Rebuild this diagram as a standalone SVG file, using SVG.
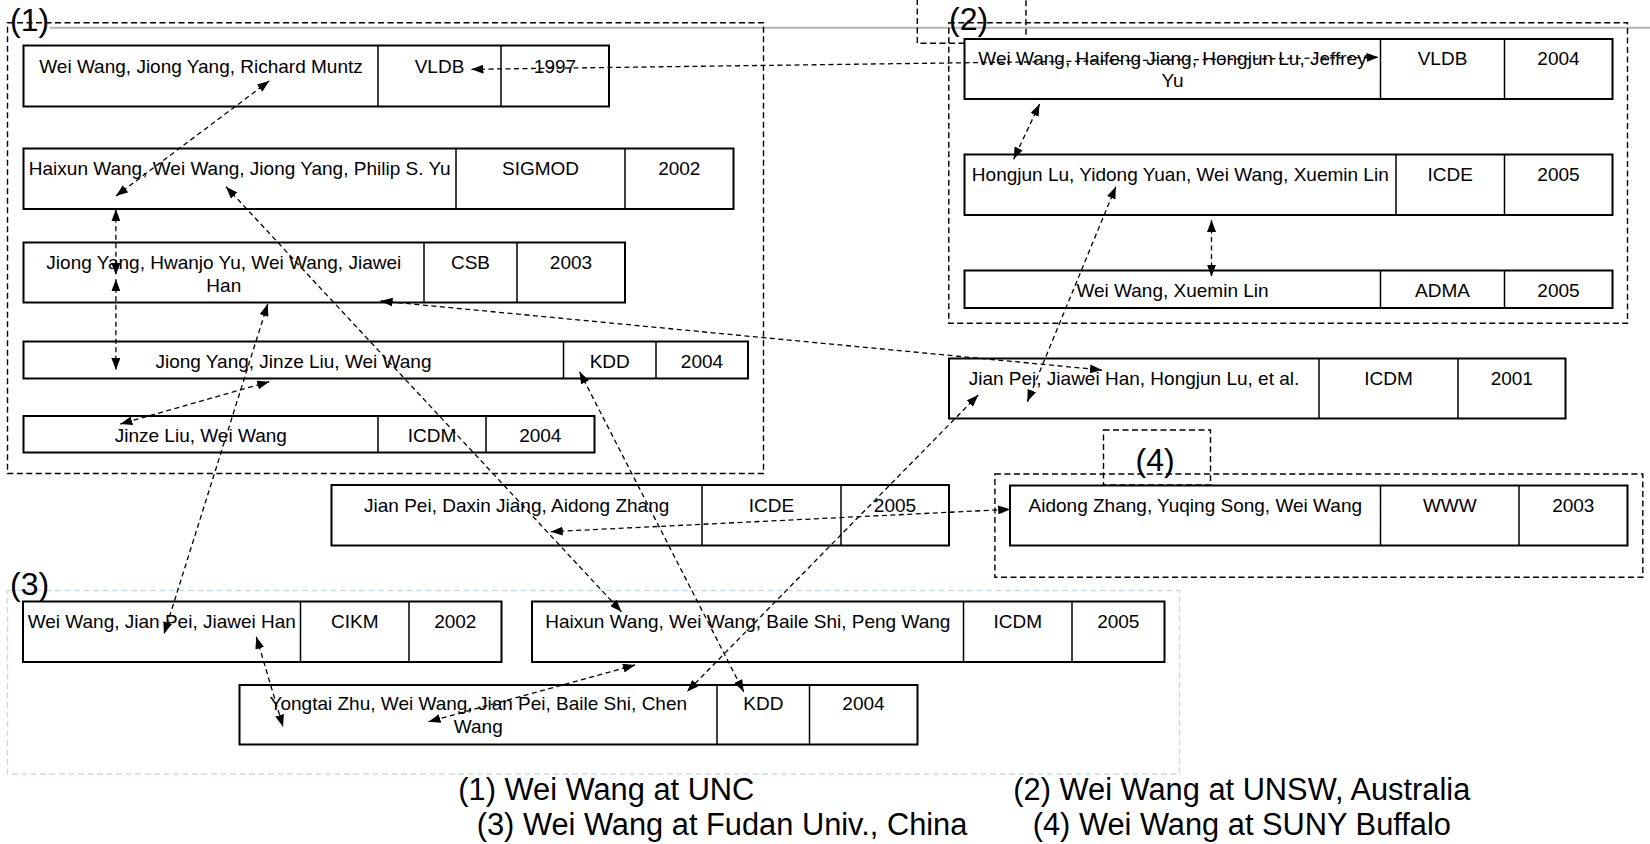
<svg xmlns="http://www.w3.org/2000/svg" width="1650" height="844" viewBox="0 0 1650 844">
<style>
.box{fill:#fff;stroke:#000;stroke-width:2}
.dv{stroke:#000;stroke-width:1.5}
.t{font-family:"Liberation Sans",Arial,sans-serif;font-size:19px;fill:#000;text-anchor:middle}
.lbl{font-family:"Liberation Sans",Arial,sans-serif;font-size:32px;fill:#000}
.cap{font-family:"Liberation Sans",Arial,sans-serif;font-size:30.8px;fill:#000}
.grp{fill:none;stroke:#000;stroke-width:1.4;stroke-dasharray:6,3.5}
.grp3{fill:none;stroke:#c8dbe8;stroke-width:1.4;stroke-dasharray:6,3.5}
.conn line{stroke:#000;stroke-width:1.3;stroke-dasharray:5,3.5;marker-start:url(#ah);marker-end:url(#ah)}
</style>
<defs>
<marker id="ah" viewBox="0 0 12 9" markerWidth="12" markerHeight="9" refX="12" refY="4.5" markerUnits="userSpaceOnUse" orient="auto-start-reverse">
<path d="M0,0 L12,4.5 L0,9 z" fill="#000" stroke="none"/>
</marker>
</defs>
<rect width="1650" height="844" fill="#fff"/>
<line x1="50" y1="27.7" x2="1650" y2="27.7" stroke="#b4b4b4" stroke-width="2"/>

<g id="groups">
<rect class="grp" x="7.5" y="22.7" width="756" height="450.8"/>
<rect class="grp" x="917.3" y="-5" width="108.7" height="48.3"/>
<rect class="grp" x="948.8" y="22.7" width="678.7" height="300.6"/>
<rect class="grp" x="1103.5" y="430" width="107" height="55"/>
<rect class="grp" x="994.9" y="474" width="647.9" height="103.3"/>
<rect class="grp3" x="7.5" y="590.5" width="1172" height="183.5"/>
<text class="lbl" x="10" y="30.5">(1)</text>
<text class="lbl" x="949" y="30">(2)</text>
<text class="lbl" x="10" y="595">(3)</text>
<text class="lbl" x="1135.5" y="471">(4)</text>
</g>

<g id="n-r1">
<rect class="box" x="23.5" y="45.5" width="585.5" height="61"/>
<line class="dv" x1="378" y1="45.5" x2="378" y2="106.5"/><line class="dv" x1="501" y1="45.5" x2="501" y2="106.5"/>
<text class="t" x="201" y="72.5">Wei Wang, Jiong Yang, Richard Muntz</text>
<text class="t" x="439.5" y="72.5">VLDB</text>
<text class="t" x="555" y="72.5">1997</text>
</g>
<g id="n-r2">
<rect class="box" x="23.5" y="148.5" width="710" height="60.5"/>
<line class="dv" x1="456" y1="148.5" x2="456" y2="209"/><line class="dv" x1="625" y1="148.5" x2="625" y2="209"/>
<text class="t" x="239.7" y="174.5">Haixun Wang, Wei Wang, Jiong Yang, Philip S. Yu</text>
<text class="t" x="540.5" y="174.5">SIGMOD</text>
<text class="t" x="679.3" y="174.5">2002</text>
</g>
<g id="n-r3">
<rect class="box" x="23.5" y="242.5" width="601.5" height="60"/>
<line class="dv" x1="424" y1="242.5" x2="424" y2="302.5"/><line class="dv" x1="517" y1="242.5" x2="517" y2="302.5"/>
<text class="t" x="223.8" y="269">Jiong Yang, Hwanjo Yu, Wei Wang, Jiawei</text>
<text class="t" x="223.8" y="291.5">Han</text>
<text class="t" x="470.5" y="269">CSB</text>
<text class="t" x="571" y="269">2003</text>
</g>
<g id="n-r4">
<rect class="box" x="23.5" y="341.5" width="724.5" height="37"/>
<line class="dv" x1="563.5" y1="341.5" x2="563.5" y2="378.5"/><line class="dv" x1="656" y1="341.5" x2="656" y2="378.5"/>
<text class="t" x="293.5" y="367.5">Jiong Yang, Jinze Liu, Wei Wang</text>
<text class="t" x="609.7" y="367.5">KDD</text>
<text class="t" x="702" y="367.5">2004</text>
</g>
<g id="n-r5">
<rect class="box" x="23.5" y="416" width="571" height="36.5"/>
<line class="dv" x1="378" y1="416" x2="378" y2="452.5"/><line class="dv" x1="486" y1="416" x2="486" y2="452.5"/>
<text class="t" x="200.8" y="441.5">Jinze Liu, Wei Wang</text>
<text class="t" x="432" y="441.5">ICDM</text>
<text class="t" x="540.3" y="441.5">2004</text>
</g>

<g id="n-a">
<rect class="box" x="964.5" y="39" width="648" height="60"/>
<line class="dv" x1="1380.5" y1="39" x2="1380.5" y2="99"/><line class="dv" x1="1504.5" y1="39" x2="1504.5" y2="99"/>
<text class="t" x="1172.5" y="64.5">Wei Wang, Haifeng Jiang, Hongjun Lu, Jeffrey</text>
<text class="t" x="1172.5" y="87">Yu</text>
<text class="t" x="1442.5" y="64.5">VLDB</text>
<text class="t" x="1558.5" y="64.5">2004</text>
</g>
<g id="n-b">
<rect class="box" x="964.5" y="154.5" width="648" height="60.5"/>
<line class="dv" x1="1396" y1="154.5" x2="1396" y2="215"/><line class="dv" x1="1504.5" y1="154.5" x2="1504.5" y2="215"/>
<text class="t" x="1180.3" y="180.5">Hongjun Lu, Yidong Yuan, Wei Wang, Xuemin Lin</text>
<text class="t" x="1450.3" y="180.5">ICDE</text>
<text class="t" x="1558.5" y="180.5">2005</text>
</g>
<g id="n-c">
<rect class="box" x="964.5" y="270.5" width="648" height="37.5"/>
<line class="dv" x1="1380.5" y1="270.5" x2="1380.5" y2="308"/><line class="dv" x1="1504.5" y1="270.5" x2="1504.5" y2="308"/>
<text class="t" x="1172.5" y="296.5">Wei Wang, Xuemin Lin</text>
<text class="t" x="1442.5" y="296.5">ADMA</text>
<text class="t" x="1558.5" y="296.5">2005</text>
</g>
<g id="n-d">
<rect class="box" x="949" y="358.5" width="616.5" height="60"/>
<line class="dv" x1="1319" y1="358.5" x2="1319" y2="418.5"/><line class="dv" x1="1458" y1="358.5" x2="1458" y2="418.5"/>
<text class="t" x="1134" y="385">Jian Pei, Jiawei Han, Hongjun Lu, et al.</text>
<text class="t" x="1388.5" y="385">ICDM</text>
<text class="t" x="1511.8" y="385">2001</text>
</g>
<g id="n-e">
<rect class="box" x="1010" y="485.5" width="617.5" height="60"/>
<line class="dv" x1="1380.5" y1="485.5" x2="1380.5" y2="545.5"/><line class="dv" x1="1519" y1="485.5" x2="1519" y2="545.5"/>
<text class="t" x="1195.3" y="511.5">Aidong Zhang, Yuqing Song, Wei Wang</text>
<text class="t" x="1449.8" y="511.5">WWW</text>
<text class="t" x="1573.3" y="511.5">2003</text>
</g>
<g id="n-f">
<rect class="box" x="331.5" y="485" width="617.5" height="60.5"/>
<line class="dv" x1="702" y1="485" x2="702" y2="545.5"/><line class="dv" x1="841" y1="485" x2="841" y2="545.5"/>
<text class="t" x="516.7" y="511.5">Jian Pei, Daxin Jiang, Aidong Zhang</text>
<text class="t" x="771.5" y="511.5">ICDE</text>
<text class="t" x="895" y="511.5">2005</text>
</g>
<g id="n-g">
<rect class="box" x="23" y="601.5" width="478.5" height="60.5"/>
<line class="dv" x1="300.5" y1="601.5" x2="300.5" y2="662"/><line class="dv" x1="409" y1="601.5" x2="409" y2="662"/>
<text class="t" x="161.8" y="627.5">Wei Wang, Jian Pei, Jiawei Han</text>
<text class="t" x="354.8" y="627.5">CIKM</text>
<text class="t" x="455.3" y="627.5">2002</text>
</g>
<g id="n-h">
<rect class="box" x="532" y="601.5" width="632.5" height="60.5"/>
<line class="dv" x1="963.5" y1="601.5" x2="963.5" y2="662"/><line class="dv" x1="1072" y1="601.5" x2="1072" y2="662"/>
<text class="t" x="747.8" y="627.5">Haixun Wang, Wei Wang, Baile Shi, Peng Wang</text>
<text class="t" x="1017.8" y="627.5">ICDM</text>
<text class="t" x="1118.3" y="627.5">2005</text>
</g>
<g id="n-i">
<rect class="box" x="239.5" y="685" width="678" height="59.5"/>
<line class="dv" x1="717" y1="685" x2="717" y2="744.5"/><line class="dv" x1="809.5" y1="685" x2="809.5" y2="744.5"/>
<text class="t" x="478.3" y="710">Yongtai Zhu, Wei Wang, Jian Pei, Baile Shi, Chen</text>
<text class="t" x="478.3" y="733">Wang</text>
<text class="t" x="763.3" y="710">KDD</text>
<text class="t" x="863.5" y="710">2004</text>
</g>

<g id="connectors" class="conn">
<line x1="471.5" y1="69.3" x2="1378.5" y2="57.3"/>
<line x1="269.2" y1="81" x2="115.9" y2="196"/>
<line x1="115.9" y1="209.3" x2="115.9" y2="275"/>
<line x1="115.9" y1="279.3" x2="115.9" y2="370"/>
<line x1="269.2" y1="381.7" x2="120.3" y2="424"/>
<line x1="226" y1="186.7" x2="621.5" y2="611.7"/>
<line x1="267.7" y1="304" x2="164" y2="634"/>
<line x1="380.6" y1="301" x2="1102" y2="370"/>
<line x1="579.6" y1="371.7" x2="743.7" y2="691.7"/>
<line x1="1115.8" y1="186.7" x2="1027.3" y2="401.7"/>
<line x1="1039.6" y1="104" x2="1013.6" y2="159.3"/>
<line x1="1211.5" y1="220" x2="1211.5" y2="276.7"/>
<line x1="550.7" y1="531.7" x2="1010.2" y2="509.3"/>
<line x1="978.2" y1="395" x2="687" y2="691.7"/>
<line x1="635" y1="665" x2="428.5" y2="721.7"/>
<line x1="256.3" y1="636.7" x2="283" y2="726.7"/>
</g>

<g id="captions">
<text class="cap" x="458.3" y="800">(1) Wei Wang at UNC</text>
<text class="cap" x="1013.3" y="800">(2) Wei Wang at UNSW, Australia</text>
<text class="cap" x="476.7" y="835">(3) Wei Wang at Fudan Univ., China</text>
<text class="cap" x="1032.7" y="835">(4) Wei Wang at SUNY Buffalo</text>
</g>
</svg>
